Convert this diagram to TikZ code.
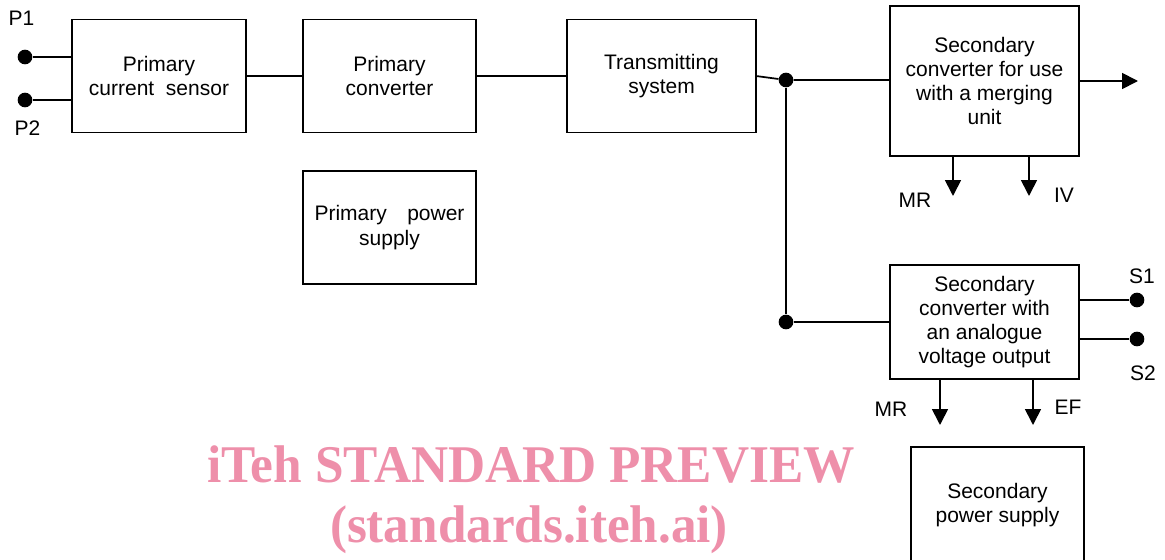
\documentclass[tikz,border=0pt]{standalone}
\usepackage{fontspec}
\setmainfont{Liberation Sans}
\newfontfamily\wmfont{Liberation Serif}
\usetikzlibrary{arrows.meta}
\definecolor{wmpink}{RGB}{238,143,170}
\tikzset{
  blk/.style={draw, line width=0.8pt, inner sep=0pt, outer sep=0pt, align=center,
    font=\fontsize{15.75}{18.2}\selectfont},
  wire/.style={line width=1.3pt},
  arr/.style={line width=1.3pt, -{Triangle[length=12pt,width=12pt]}},
  dot/.style={circle, fill=black, inner sep=0pt, minimum size=11pt},
  lbl/.style={inner sep=0pt, font=\fontsize{15.75}{18.2}\selectfont},
  wm/.style={inner sep=0pt, anchor=base, text=wmpink, font=\wmfont\bfseries\fontsize{39.75}{44}\selectfont}
}
\begin{document}
\begin{tikzpicture}[x=0.75pt, y=-0.75pt]
\useasboundingbox (0,0) rectangle (1165,560);

% main chain of blocks
\node[blk, minimum width=130.5pt, minimum height=84.75pt] (sens) at (159,76)
  {Primary\\current~~sensor};
\node[blk, minimum width=129.75pt, minimum height=84.75pt] (pconv) at (389.5,76)
  {Primary\\converter};
\node[blk, minimum width=141.75pt, minimum height=84.75pt] (trans) at (661.5,76)
  {Transmitting\\system};
\node[blk, minimum width=129.75pt, minimum height=84.75pt] (ppow) at (389.5,227.5)
  {\makebox[112.5pt][s]{Primary power}\\supply};
\node[blk, minimum width=141.75pt, minimum height=112.5pt] (smu) at (984.5,81)
  {Secondary\\converter for use\\with a merging\\unit};
\node[blk, minimum width=141.75pt, minimum height=85.5pt] (sav) at (984.5,322)
  {Secondary\\converter with\\an analogue\\voltage output};
\node[blk, minimum width=129.75pt, minimum height=87pt] (spow) at (997.5,505)
  {Secondary\\power supply};

% primary terminals
\node[dot] (p1) at (25,57) {};
\node[dot] (p2) at (25,100) {};
\node[lbl] (p1l) at (21.5,18.5) {P1};
\node[lbl] (p2l) at (27.5,128) {P2};
\draw[wire] (p1) -- (p1 -| sens.west);
\draw[wire] (p2) -- (p2 -| sens.west);

\draw[wire] (sens.east) -- (pconv.west);
\draw[wire] (pconv.east) -- (trans.west);

% branch point feeding both secondary converters
\node[dot] (j1) at (786,80) {};
\node[dot] (j2) at (786,322) {};
\draw[wire] (trans.east) -- (j1) -- (j1 -| smu.west);
\draw[wire] (j1) -- (j2);
\draw[wire] (j2) -- (j2 -| sav.west);

% outputs of the merging-unit converter
\coordinate (dout) at (1138,81);
\draw[arr] (smu.east) -- (dout);
\coordinate (mr1) at (953,196);
\coordinate (iv) at (1029,196);
\draw[arr] (smu.south -| mr1) -- (mr1);
\draw[arr] (smu.south -| iv) -- (iv);
\node[lbl] (mr1l) at (915,200) {MR};
\node[lbl] (ivl) at (1064,195.5) {IV};

% outputs of the analogue converter
\node[dot] (s1) at (1137,300) {};
\node[dot] (s2) at (1137,339) {};
\draw[wire] (s1 -| sav.east) -- (s1);
\draw[wire] (s2 -| sav.east) -- (s2);
\node[lbl] (s1l) at (1142,276) {S1};
\node[lbl] (s2l) at (1143,373) {S2};
\coordinate (mr2) at (940,425);
\coordinate (ef) at (1033,425);
\draw[arr] (sav.south -| mr2) -- (mr2);
\draw[arr] (sav.south -| ef) -- (ef);
\node[lbl] (mr2l) at (891,409) {MR};
\node[lbl] (efl) at (1068,407.5) {EF};

% watermark
\node[wm] (wm1) at (531,482) {\resizebox{486pt}{\height}{iTeh STANDARD PREVIEW}};
\node[wm] (wm2) at (529,542) {\resizebox{298.5pt}{\height}{(standards.iteh.ai)}};
\end{tikzpicture}
\end{document}
